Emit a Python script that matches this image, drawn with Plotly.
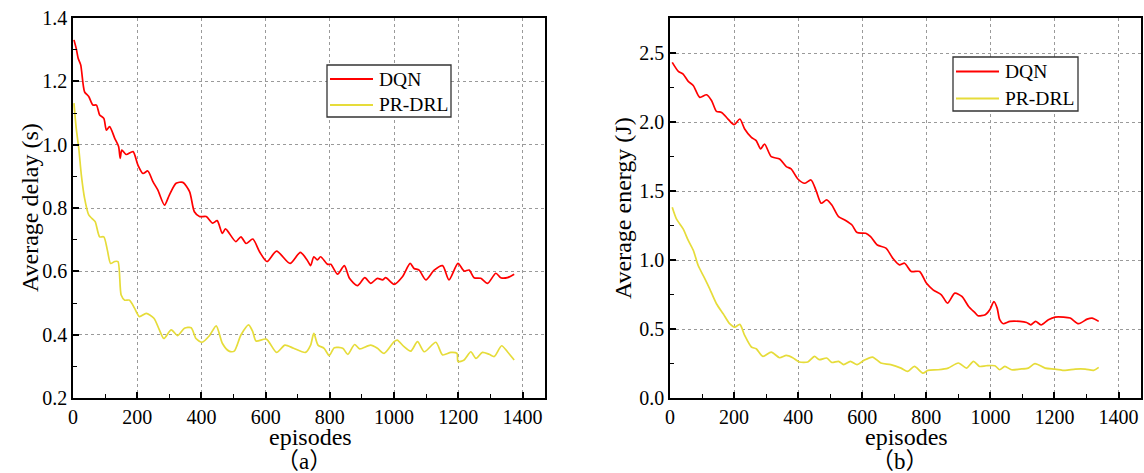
import plotly.graph_objects as go

# ---------------- data ----------------
# (a) Average delay
delay_dqn_x = [3,10,16,24,36,49,62,73,83,96,104,114,130,142,147,152,166,187,202,218,233,249,264,285,300,321,342,363,378,394,415,435,449,465,475,507,523,539,560,581,604,634,676,708,729,740,750,761,771,793,803,824,845,861,886,909,927,948,964,974,1000,1026,1050,1062,1078,1099,1125,1151,1171,1199,1218,1234,1249,1270,1291,1317,1332,1353,1374]
delay_dqn_y = [1.331,1.304,1.273,1.252,1.167,1.152,1.125,1.125,1.094,1.083,1.046,1.057,1.020,0.994,0.957,0.983,0.969,0.978,0.936,0.909,0.917,0.883,0.857,0.809,0.841,0.878,0.881,0.852,0.788,0.773,0.773,0.752,0.760,0.720,0.734,0.694,0.709,0.688,0.702,0.662,0.631,0.664,0.625,0.660,0.636,0.618,0.646,0.636,0.646,0.622,0.622,0.591,0.618,0.578,0.555,0.580,0.562,0.578,0.573,0.580,0.559,0.583,0.625,0.609,0.604,0.573,0.604,0.618,0.573,0.625,0.601,0.604,0.580,0.578,0.562,0.594,0.580,0.580,0.591]

delay_pr_x = [3,10,18,26,36,49,59,69,83,96,107,117,130,140,150,161,176,192,207,228,252,269,283,306,326,347,368,383,402,425,446,465,486,502,523,547,560,570,602,634,660,687,724,740,750,763,782,798,814,840,856,877,893,927,948,969,1000,1010,1031,1052,1073,1094,1130,1151,1177,1196,1199,1218,1239,1255,1275,1296,1312,1335,1353,1374]
delay_pr_y = [1.131,1.052,0.988,0.904,0.831,0.778,0.767,0.757,0.709,0.709,0.667,0.625,0.631,0.631,0.525,0.509,0.509,0.483,0.457,0.467,0.452,0.415,0.388,0.415,0.397,0.420,0.422,0.388,0.376,0.397,0.428,0.373,0.348,0.348,0.399,0.431,0.409,0.380,0.386,0.344,0.367,0.357,0.344,0.367,0.404,0.367,0.357,0.334,0.359,0.357,0.338,0.369,0.355,0.367,0.357,0.341,0.378,0.383,0.362,0.348,0.378,0.346,0.376,0.336,0.344,0.341,0.315,0.320,0.346,0.325,0.344,0.338,0.331,0.365,0.346,0.320]

# (b) Average energy
energy_dqn_x = [7,26,41,57,73,93,114,130,145,161,181,200,218,233,254,269,283,295,316,342,363,378,399,420,440,456,472,489,505,526,547,568,584,611,626,647,674,695,716,732,753,779,800,821,847,866,889,911,932,953,961,984,998,1011,1021,1029,1040,1061,1092,1113,1126,1141,1158,1181,1202,1228,1249,1275,1302,1317,1338]
energy_dqn_y = [2.435,2.370,2.350,2.297,2.266,2.181,2.200,2.157,2.080,2.072,2.024,1.983,2.024,1.952,1.891,1.867,1.807,1.843,1.751,1.734,1.679,1.662,1.589,1.558,1.582,1.505,1.413,1.437,1.400,1.316,1.290,1.255,1.200,1.195,1.170,1.110,1.087,1.015,0.966,0.978,0.918,0.918,0.834,0.785,0.749,0.688,0.761,0.737,0.664,0.616,0.597,0.604,0.640,0.700,0.652,0.568,0.539,0.556,0.556,0.548,0.531,0.556,0.531,0.568,0.587,0.587,0.580,0.539,0.572,0.580,0.556]

energy_pr_x = [7,20,41,57,73,88,109,124,145,166,186,202,218,233,254,269,290,316,342,363,383,404,430,451,466,489,505,526,542,563,584,605,632,658,689,721,742,763,789,805,837,868,900,926,947,966,987,1014,1029,1045,1066,1092,1118,1139,1171,1202,1233,1265,1296,1322,1338]
energy_pr_y = [1.384,1.300,1.227,1.143,1.070,0.961,0.865,0.792,0.684,0.611,0.539,0.514,0.534,0.454,0.370,0.357,0.302,0.333,0.292,0.309,0.292,0.261,0.261,0.302,0.278,0.290,0.258,0.266,0.242,0.266,0.242,0.273,0.297,0.254,0.242,0.217,0.193,0.229,0.181,0.200,0.205,0.217,0.254,0.217,0.266,0.229,0.234,0.234,0.205,0.229,0.205,0.210,0.217,0.249,0.217,0.210,0.200,0.210,0.210,0.200,0.222]

series_names = ["DQN", "PR-DRL"]
y_titles = ["Average delay (s)", "Average energy (J)"]
x_title = "episodes"
panel_labels = ["（a）", "（b）"]

# ---------------- style ----------------
W, H = 1144, 473
RED = "#FF0000"
YEL = "#E6DC3A"
COLORS = [RED, YEL]
FONT = "Times New Roman"
FONT_CJK = "Times New Roman, Noto Sans CJK SC"

def px(x):
    return x / W

def py(y):
    return 1 - y / H

fig = go.Figure()

line_kw = dict(mode="lines", line_shape="spline", showlegend=False)
fig.add_trace(go.Scatter(x=delay_dqn_x, y=delay_dqn_y, name=series_names[0],
                         line=dict(color=RED, width=1.7, smoothing=0.7), xaxis="x", yaxis="y", **line_kw))
fig.add_trace(go.Scatter(x=delay_pr_x, y=delay_pr_y, name=series_names[1],
                         line=dict(color=YEL, width=1.7, smoothing=0.7), xaxis="x", yaxis="y", **line_kw))
fig.add_trace(go.Scatter(x=energy_dqn_x, y=energy_dqn_y, name=series_names[0],
                         line=dict(color=RED, width=1.7, smoothing=0.7), xaxis="x2", yaxis="y2", **line_kw))
fig.add_trace(go.Scatter(x=energy_pr_x, y=energy_pr_y, name=series_names[1],
                         line=dict(color=YEL, width=1.7, smoothing=0.7), xaxis="x2", yaxis="y2", **line_kw))

grid = dict(showgrid=True, gridcolor="#9a9a9a", griddash="dot", gridwidth=1)
axis_common = dict(showline=True, linecolor="black", linewidth=1.6, mirror=True, automargin=False,
                   ticks="inside", ticklen=6, tickwidth=1.6, tickcolor="black", ticklabeloverflow="allow",
                   tickfont=dict(family=FONT, size=20, color="black"), zeroline=False, **grid)
minor_kw = dict(ticks="inside", ticklen=4, tickwidth=1.4, tickcolor="black", showgrid=False)

L_dom = [px(73), px(545)]
R_dom = [px(670), px(1141)]
Y_dom = [py(398), py(18)]

fig.update_layout(
    width=W, height=H,
    margin=dict(l=0, r=0, t=0, b=0, autoexpand=False),
    paper_bgcolor="white", plot_bgcolor="white",
    font=dict(family=FONT),
    showlegend=False,
    xaxis=dict(domain=L_dom, range=[0, 1470], tick0=0, dtick=200, anchor="y",
               minor=dict(dtick=100, **minor_kw), **axis_common),
    yaxis=dict(domain=Y_dom, range=[0.2, 1.4], tick0=0.2, dtick=0.2, tickformat=".1f", anchor="x",
               minor=dict(dtick=0.1, **minor_kw), **axis_common),
    xaxis2=dict(domain=R_dom, range=[0, 1470], tick0=0, dtick=200, anchor="y2",
                minor=dict(dtick=100, **minor_kw), **axis_common),
    yaxis2=dict(domain=Y_dom, range=[0, 2.757], tick0=0, dtick=0.5, tickformat=".1f", anchor="x2",
                minor=dict(dtick=0.25, **minor_kw), **axis_common),
)

# ---- legends (box + sample lines + labels), one per panel ----
legend_boxes = [(327, 65, 451, 117), (953, 57, 1078, 111)]
for (x0, y0, x1, y1) in legend_boxes:
    fig.add_shape(type="rect", xref="paper", yref="paper",
                  x0=px(x0), x1=px(x1), y0=py(y0), y1=py(y1),
                  line=dict(color="#333333", width=1.3), fillcolor="white", layer="above")
    row_h = (y1 - y0) / 2
    for i, name in enumerate(series_names):
        yc = y0 + row_h * (i + 0.5) + 1
        fig.add_shape(type="line", xref="paper", yref="paper",
                      x0=px(x0 + 3), x1=px(x0 + 46), y0=py(yc), y1=py(yc),
                      line=dict(color=COLORS[i], width=1.8), layer="above")
        fig.add_annotation(xref="paper", yref="paper", showarrow=False,
                           x=px(x0 + 50), y=py(yc), xanchor="left", yanchor="middle",
                           text=name, font=dict(family=FONT, size=19.5, color="black"))

ann = []
ann.append(dict(text=y_titles[0], x=px(30), y=py(208), textangle=-90, size=24, fam=FONT))
ann.append(dict(text=y_titles[1], x=px(623), y=py(208), textangle=-90, size=24, fam=FONT))
ann.append(dict(text=x_title, x=px(310), y=py(437), size=24, fam=FONT))
ann.append(dict(text=x_title, x=px(906), y=py(437), size=24, fam=FONT))
ann.append(dict(text=panel_labels[0], x=px(304), y=py(461), size=23, fam=FONT_CJK))
ann.append(dict(text=panel_labels[1], x=px(900), y=py(461), size=23, fam=FONT_CJK))

for a in ann:
    size = a.pop("size")
    fam = a.pop("fam")
    fig.add_annotation(xref="paper", yref="paper", showarrow=False,
                       xanchor="center", yanchor="middle",
                       font=dict(family=fam, size=size, color="black"), **a)

# remove the default page margin so the figure sits at the window's top-left corner
fig.write_html("out.html",
               config={"displayModeBar": False},
               post_script="document.body.style.margin='0';document.body.style.overflow='hidden';")
